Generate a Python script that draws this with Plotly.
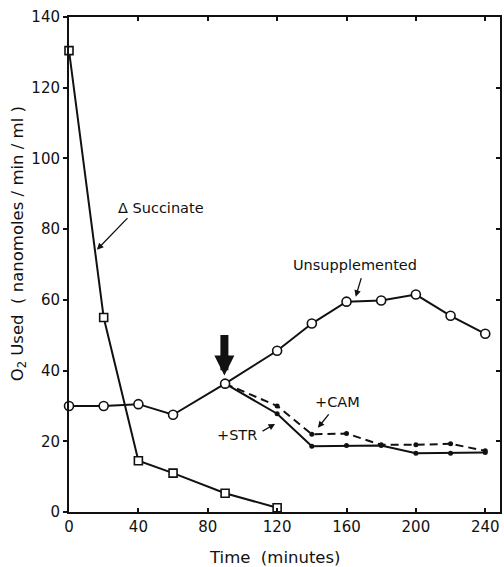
import plotly.graph_objects as go

# Data
succ_x = [0, 20, 40, 60, 90, 120]
succ_y = [130.5, 55, 14.5, 11, 5.3, 1.2]

unsup_x = [0, 20, 40, 60, 90, 120, 140, 160, 180, 200, 220, 240]
unsup_y = [30, 30, 30.5, 27.5, 36.3, 45.6, 53.3, 59.5, 59.8, 61.5, 55.5, 50.4]

str_x = [90, 120, 140, 160, 180, 200, 220, 240]
str_y = [36.3, 27.8, 18.6, 18.8, 18.8, 16.6, 16.6, 16.8]

cam_x = [90, 120, 140, 160, 180, 200, 220, 240]
cam_y = [36.3, 30.0, 22.0, 22.2, 19.0, 19.0, 19.3, 17.3]

x_ticks = [0, 40, 80, 120, 160, 200, 240]
y_ticks = [0, 20, 40, 60, 80, 100, 120, 140]

FONT = "DejaVu Sans"
BLACK = "#111111"

fig = go.Figure()

fig.add_trace(go.Scatter(x=cam_x, y=cam_y, mode="lines+markers",
                         line=dict(color=BLACK, width=2, dash="8px,5px"),
                         marker=dict(symbol="circle", size=5, color=BLACK),
                         showlegend=False))
fig.add_trace(go.Scatter(x=str_x, y=str_y, mode="lines+markers",
                         line=dict(color=BLACK, width=2),
                         marker=dict(symbol="circle", size=5, color=BLACK),
                         showlegend=False))
fig.add_trace(go.Scatter(x=succ_x, y=succ_y, mode="lines+markers",
                         line=dict(color=BLACK, width=2),
                         marker=dict(symbol="square", size=8, color="white",
                                     line=dict(color=BLACK, width=1.6)),
                         showlegend=False, cliponaxis=False))
fig.add_trace(go.Scatter(x=unsup_x, y=unsup_y, mode="lines+markers",
                         line=dict(color=BLACK, width=2),
                         marker=dict(symbol="circle", size=9, color="white",
                                     line=dict(color=BLACK, width=1.6)),
                         showlegend=False, cliponaxis=False))

# invisible trace to host mirrored inward ticks on top/right
fig.add_trace(go.Scatter(x=[None], y=[None], xaxis="x2", yaxis="y2", showlegend=False))

ARW = dict(showarrow=True, arrowhead=2, arrowsize=1, arrowwidth=1.3, arrowcolor=BLACK)
C = dict(xanchor="center", yanchor="middle")

annots = [
    dict(x=52.8, y=86.1, text="\u0394 Succinate", showarrow=False, **C),
    dict(x=16.1, y=74.2, ax=32, ay=-33, text="", **ARW),
    dict(x=164.8, y=70.0, text="Unsupplemented", showarrow=False, **C),
    dict(x=165.3, y=60.9, ax=6, ay=-20, text="", **ARW),
    dict(x=155, y=31.2, text="+CAM", showarrow=False, **C),
    dict(x=143.5, y=23.8, ax=12, ay=-15, text="", **ARW),
    dict(x=97, y=21.8, text="+STR", showarrow=False, **C),
    dict(x=118.8, y=24.9, ax=-14, ay=8, text="", **ARW),
    dict(x=89.6, y=38.6, ax=0, ay=-42, text="", showarrow=True,
         arrowhead=2, arrowsize=0.5, arrowwidth=8, arrowcolor=BLACK),
    dict(xref="paper", yref="paper", x=-0.118, y=0.541, textangle=-90,
         text="O<sub>2</sub> Used  ( nanomoles / min / ml )", showarrow=False,
         font=dict(size=16.5), **C),
    dict(xref="paper", yref="paper", x=0.478, y=-0.091,
         text="Time  (minutes)", showarrow=False, font=dict(size=16.5), **C),
]

fig.update_layout(
    width=504, height=567,
    margin=dict(l=69, r=2, t=17, b=55),
    paper_bgcolor="white", plot_bgcolor="white",
    font=dict(family=FONT, size=14.5, color=BLACK),
    annotations=annots,
    xaxis=dict(range=[0, 248.5], tickvals=x_ticks, ticktext=[str(v) for v in x_ticks],
               ticks="inside", ticklen=4, tickwidth=1.5, tickcolor=BLACK,
               showline=True, linecolor=BLACK, linewidth=2, mirror=True,
               showgrid=False, zeroline=False, tickfont=dict(size=15)),
    yaxis=dict(range=[0, 140], tickvals=y_ticks, ticktext=[str(v) for v in y_ticks],
               ticks="outside", ticklen=4, tickwidth=1.5, tickcolor=BLACK,
               showline=True, linecolor=BLACK, linewidth=2, mirror=True,
               showgrid=False, zeroline=False, tickfont=dict(size=15)),
    xaxis2=dict(range=[0, 248.5], overlaying="x", side="top", tickvals=x_ticks[1:],
                ticks="inside", ticklen=4, tickwidth=1.5, tickcolor=BLACK,
                showticklabels=False, showline=False, showgrid=False, zeroline=False),
    yaxis2=dict(range=[0, 140], overlaying="y", side="right", tickvals=y_ticks[1:-1],
                ticks="inside", ticklen=4, tickwidth=1.5, tickcolor=BLACK,
                showticklabels=False, showline=False, showgrid=False, zeroline=False),
)

fig.write_html("out.html")
